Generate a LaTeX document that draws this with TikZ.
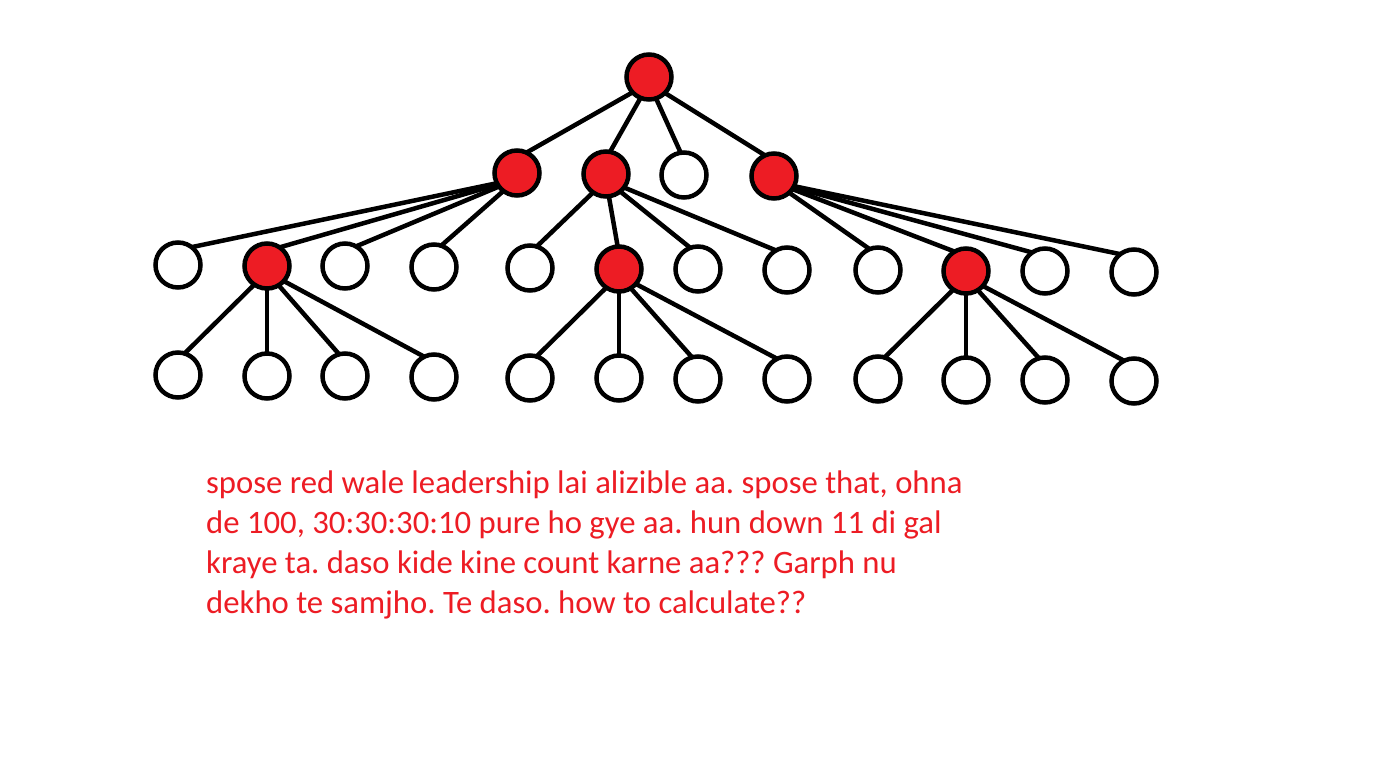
\documentclass[tikz,border=0pt]{standalone}
\usepackage{fontspec}
\setmainfont{Carlito}
\frenchspacing
\usetikzlibrary{backgrounds}
\definecolor{paintred}{HTML}{ED1C24}
\tikzset{
  vert/.style={circle, draw=black, line width=4.5pt, minimum size=45pt, inner sep=0pt, fill=white},
  redvert/.style={vert, fill=paintred},
  link/.style={draw=black, line width=4.5pt}
}
\newcommand{\kids}[2]{\foreach \c in {#2} \path[link] ([yshift=-6pt]#1.center) -- ([yshift=15pt]\c.center);}
\begin{document}
\begin{tikzpicture}[x=1pt,y=-1pt]
\useasboundingbox (0,0) rectangle (1385,757);
% level 0
\node[redvert] (root) at (649,77) {};
% level 1
\node[redvert] (A) at (517,173) {};
\node[redvert] (B) at (606,174) {};
\node[vert]    (C) at (684,175) {};
\node[redvert] (D) at (774,176) {};
% level 2
\node[vert]    (a1) at (178,265) {};
\node[redvert] (a2) at (267,266) {};
\node[vert]    (a3) at (345,266) {};
\node[vert]    (a4) at (434,267) {};
\node[vert]    (b1) at (530,268) {};
\node[redvert] (b2) at (619,269) {};
\node[vert]    (b3) at (698,269) {};
\node[vert]    (b4) at (787,270) {};
\node[vert]    (d1) at (878,270) {};
\node[redvert] (d2) at (966,271) {};
\node[vert]    (d3) at (1045,271) {};
\node[vert]    (d4) at (1134,272) {};
% level 3
\node[vert] (p1) at (178,375) {};
\node[vert] (p2) at (267,376) {};
\node[vert] (p3) at (345,376) {};
\node[vert] (p4) at (434,377) {};
\node[vert] (q1) at (530,378) {};
\node[vert] (q2) at (619,378) {};
\node[vert] (q3) at (698,379) {};
\node[vert] (q4) at (787,379) {};
\node[vert] (r1) at (878,379) {};
\node[vert] (r2) at (966,380) {};
\node[vert] (r3) at (1045,380) {};
\node[vert] (r4) at (1134,381) {};
\begin{scope}[on background layer]
  \fill[white] (0,0) rectangle (1385,757);
  \kids{root}{A,B,C,D}
  \kids{A}{a1,a2,a3,a4}
  \kids{B}{b1,b2,b3,b4}
  \kids{D}{d1,d2,d3,d4}
  \kids{a2}{p1,p2,p3,p4}
  \kids{b2}{q1,q2,q3,q4}
  \kids{d2}{r1,r2,r3,r4}
\end{scope}
% text
\node[anchor=north west, inner sep=0pt, text=paintred, align=left,
      font=\fontsize{32.7}{40}\selectfont, text depth=0pt] (msg) at (206,470.5)
  {spose red wale leadership lai alizible aa. spose that, ohna\\
   de 100, 30:30:30:10 pure ho gye aa. hun down 11 di gal\\
   kraye ta. daso kide kine count karne aa??? Garph nu\\
   dekho te samjho. Te daso. how to calculate??};
\end{tikzpicture}
\end{document}
